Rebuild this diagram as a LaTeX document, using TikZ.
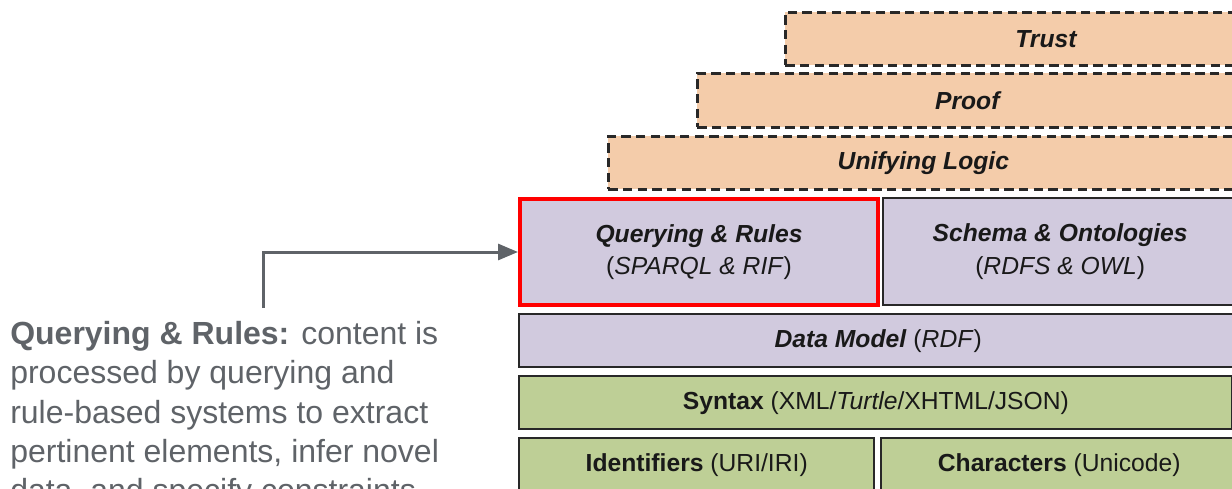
\documentclass[tikz,border=0pt]{standalone}
\usepackage{fontspec}
\setmainfont{Liberation Sans}
\usetikzlibrary{arrows.meta}
\definecolor{peach}{RGB}{244,204,170}
\definecolor{lav}{RGB}{209,202,222}
\definecolor{grn}{RGB}{190,207,150}
\definecolor{edge}{RGB}{40,40,40}
\definecolor{gtext}{RGB}{95,99,104}
\definecolor{qred}{RGB}{255,0,0}
\tikzset{
  layer/.style={draw=edge, line width=1.8pt, inner sep=0pt, anchor=north west,
    align=center, font=\fontsize{18.5}{24.5}\selectfont, text=black!90},
  dlayer/.style={layer, fill=peach, line width=2pt, dash pattern=on 7pt off 4pt},
  vlayer/.style={layer, fill=lav},
  glayer/.style={layer, fill=grn},
  hl/.style={draw=qred, line width=3pt},
  conn/.style={draw=gtext, line width=2.25pt, -{Triangle[length=15pt,width=12pt]}},
  desc/.style={anchor=north west, align=left, inner sep=0pt, text=gtext,
    font=\fontsize{24}{29.5}\selectfont}
}
\begin{document}
\begin{tikzpicture}[x=0.75pt,y=-0.75pt]
\useasboundingbox (0,0) rectangle (1232,489);
\clip (0,0) rectangle (1232,489);
\node[dlayer, minimum width=391.5pt, minimum height=39.75pt] (trust) at (784,11) {\textbf{\textit{Trust}}};
\node[dlayer, minimum width=406.5pt, minimum height=40.5pt] (proof) at (696,72) {\textbf{\textit{Proof}}};
\node[dlayer, minimum width=472.5pt, minimum height=39.75pt] (logic) at (607,135) {\textbf{\textit{Unifying Logic}}};
\node[vlayer, hl, minimum width=268.5pt, minimum height=79.5pt] (qr) at (518,197) {\textbf{\textit{Querying \& Rules}}\\(\textit{SPARQL \& RIF})};
\node[vlayer, minimum width=265.5pt, minimum height=80.25pt] (schema) at (882,197) {\textbf{\textit{Schema \& Ontologies}}\\(\textit{RDFS \& OWL})};
\node[vlayer, minimum width=538.5pt, minimum height=39.75pt] (data) at (518,313) {\textbf{\textit{Data Model}} (\textit{RDF})};
\node[glayer, minimum width=535pt, minimum height=39.75pt] (syntax) at (518,375) {\textbf{Syntax} (XML/\textit{Turtle}/XHTML/JSON)};
\node[glayer, minimum width=266.25pt, minimum height=45pt] (ident) at (518,437) {\raisebox{8pt}{\textbf{Identifiers} (URI/IRI)}};
\node[glayer, minimum width=267pt, minimum height=45pt] (chars) at (880,437) {\raisebox{8pt}{\textbf{Characters} (Unicode)}};
\node[desc] (text) at (10,321) {\textbf{Querying \& Rules:} content is\\processed by querying and\\rule-based systems to extract\\pertinent elements, infer novel\\data, and specify constraints.};
\coordinate (start) at (263,308);
\draw[conn] (start) |- (qr.west);
\end{tikzpicture}
\end{document}
